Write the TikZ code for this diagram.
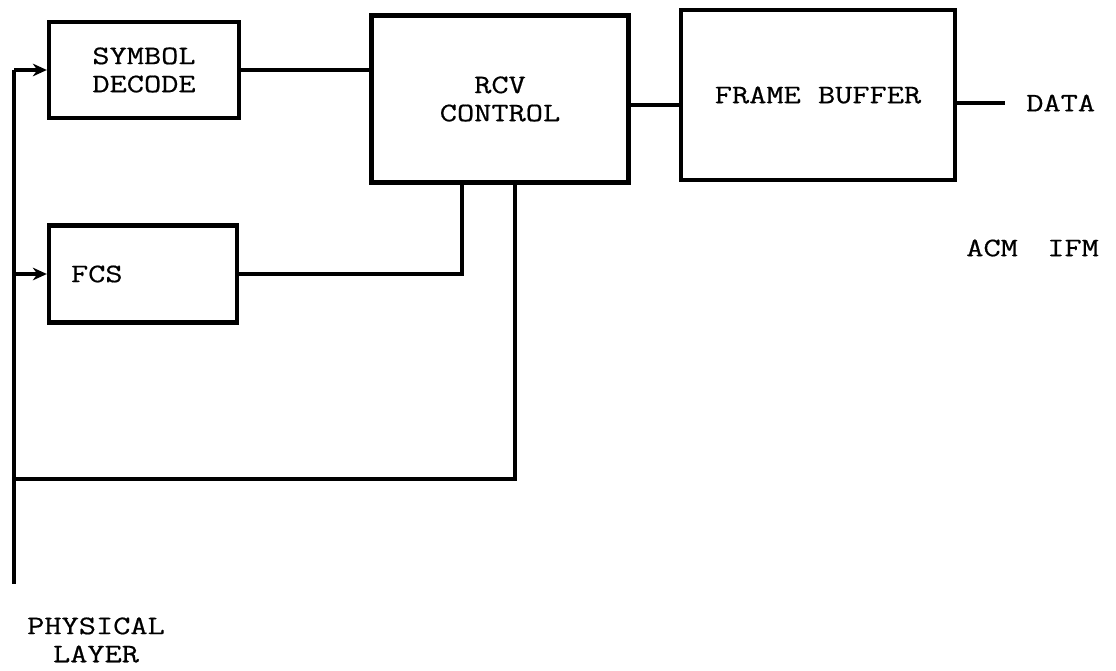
\documentclass[tikz,border=0pt]{standalone}
\usepackage{fontspec}
\newfontfamily\scanfont[FakeStretch=1.25,FakeBold=0.6]{Latin Modern Mono}
\usetikzlibrary{arrows.meta,positioning,calc}

\begin{document}
\begin{tikzpicture}[x=0.025cm, y=-0.025cm,
    blk/.style={draw, line width=3pt, inner sep=0pt,
                font=\scanfont\fontsize{19}{20}\selectfont, align=center},
    wire/.style={line width=2.6pt},
    feed/.style={line width=2.6pt, -{Stealth[length=10pt,width=9pt]}},
    lbl/.style={font=\scanfont\fontsize{19}{20}\selectfont, align=center, inner sep=0pt}
  ]
    \useasboundingbox (0,0) rectangle (1116,670);

    % Box 1: symbol decoder
    \node[blk, minimum width=4.75cm, minimum height=2.4cm] (sd) at (144,70) {SYMBOL\\DECODE};

    % Box 2: frame check sequence
    \node[blk, minimum width=4.7cm, minimum height=2.42cm,
          text width=3.6cm, align=left] (fcs) at (143,274) {FCS};

    % Box 3: receive control
    \node[blk, minimum width=6.42cm, minimum height=4.17cm] (rcv) at (500,99) {RCV\\CONTROL};

    % Box 4: frame buffer
    \node[blk, minimum width=6.85cm, minimum height=4.25cm] (fb) at (818,95) {FRAME BUFFER};

    % outside labels
    \node[lbl, anchor=west] (data) at (1026,103) {DATA};
    \node[lbl, anchor=west] (acm) at (966,248) {ACM\hspace{1.1em}IFM};
    \node[lbl] (phy) at (96,640) {PHYSICAL\\LAYER};

    % bus from the physical layer
    \coordinate (bustop) at (14,70);
    \coordinate (busend) at (14,584);
    \coordinate (buscorner) at (515,479);
    \draw[wire] (bustop) -- (busend);
    \draw[feed] (bustop) -- (sd.west);
    \draw[feed] (fcs.west -| bustop) -- (fcs.west);
    \draw[wire] (bustop |- buscorner) -- (buscorner) -- (buscorner |- rcv.south);

    % links between the blocks
    \draw[wire] (sd.east) -- (sd.east -| rcv.west);
    \coordinate (fcsup) at ($(rcv.south)+(-38,0)$);
    \draw[wire] (fcs.east) -| (fcsup);
    \draw[wire] (rcv.east |- 0,105) -- (fb.west |- 0,105);
    \draw[wire] (fb.east |- data) -- ($(data.west)+(-21,0)$);
  \end{tikzpicture}
\end{document}
